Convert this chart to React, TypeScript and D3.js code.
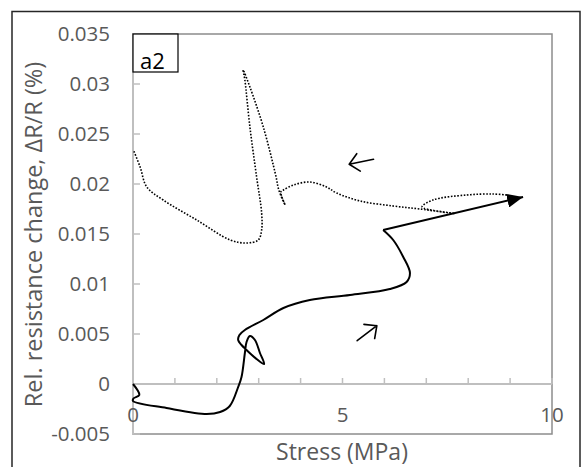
import React from "react";
import * as d3 from "d3";

// Loading curve (solid) — stress (MPa), ΔR/R (%)
const loadStress = [0, 0.15, 0.01, 0.0, 0.8, 1.76, 2.08, 2.31, 2.51, 2.59, 2.67, 2.71, 2.79, 2.91, 3.03, 3.13, 2.95, 2.71, 2.59, 2.51, 2.54, 2.67, 3.11, 3.59, 4.22, 5.18, 6.13, 6.53, 6.61, 6.45, 6.21, 5.97];
const loadRes = [0, -0.0011, -0.00145, -0.0017, -0.0024, -0.003, -0.0028, -0.0022, -0.0003, 0.0007, 0.0031, 0.0042, 0.0048, 0.0044, 0.0031, 0.002, 0.0025, 0.0034, 0.0039, 0.0044, 0.0049, 0.0054, 0.0064, 0.0076, 0.0084, 0.0089, 0.0095, 0.0102, 0.0111, 0.0127, 0.0144, 0.0154];
// final straight segment with arrow head
const loadEndStress = [5.97, 9.31];
const loadEndRes = [0.0154, 0.0187];

// Unloading curve (dotted)
const unloadStress = [8.92, 8.59, 7.96, 7.16, 6.9, 7.68, 6.85, 6.21, 5.42, 4.86, 4.62, 4.22, 3.83, 3.59, 3.53, 3.63, 3.48, 3.41, 3.11, 2.79, 2.63, 2.67, 2.79, 2.95, 3.07, 3.07, 2.99, 2.71, 2.32, 1.52, 0.72, 0.33, 0.17, 0.01];
const unloadRes = [0.0189, 0.019, 0.0189, 0.0184, 0.0177, 0.01705, 0.0175, 0.0178, 0.0183, 0.0191, 0.0197, 0.0202, 0.0199, 0.0194, 0.0192, 0.0179, 0.0194, 0.0208, 0.0257, 0.0297, 0.0314, 0.0304, 0.0257, 0.0207, 0.0171, 0.0154, 0.0144, 0.0141, 0.0144, 0.0164, 0.0184, 0.0197, 0.0217, 0.0234];

// Direction annotation arrows [tailX, tailY, tipX, tipY]
const unloadArrow = [5.74, 0.02247, 5.16, 0.02197];
const loadArrow = [5.35, 0.00433, 5.82, 0.00583];

const yTicks = [-0.005, 0, 0.005, 0.01, 0.015, 0.02, 0.025, 0.03, 0.035];
const yTickLabels = ["-0.005", "0", "0.005", "0.01", "0.015", "0.02", "0.025", "0.03", "0.035"];
const xLabelTicks = [0, 5, 10];
const xMinorTicks = [1, 2, 3, 4, 5, 6, 7, 8, 9, 10];

const FONT = "'Open Sans', sans-serif";

export default function App() {
  const x = d3.scaleLinear().domain([0, 10]).range([133, 552]);
  const y = d3.scaleLinear().domain([-0.005, 0.035]).range([434, 34]);

  const lineGen = d3
    .line<number>()
    .x((i) => x(loadStress[i]))
    .y((i) => y(loadRes[i]))
    .curve(d3.curveCatmullRom.alpha(0.5));
  const loadPath = lineGen(loadStress.map((_, i) => i)) || "";

  const unloadGen = d3
    .line<number>()
    .x((i) => x(unloadStress[i]))
    .y((i) => y(unloadRes[i]))
    .curve(d3.curveCatmullRom.alpha(0.5));
  const unloadPath = unloadGen(unloadStress.map((_, i) => i)) || "";

  const openArrow = (a: number[]) => {
    const x1 = x(a[0]), y1 = y(a[1]), x2 = x(a[2]), y2 = y(a[3]);
    const ang = Math.atan2(y2 - y1, x2 - x1);
    const L = 13;
    const s = 0.75;
    const ax1 = x2 - L * Math.cos(ang - s), ay1 = y2 - L * Math.sin(ang - s);
    const ax2 = x2 - L * Math.cos(ang + s), ay2 = y2 - L * Math.sin(ang + s);
    return `M${x1},${y1}L${x2},${y2}M${ax1},${ay1}L${x2},${y2}L${ax2},${ay2}`;
  };

  const y0 = y(0);

  return (
    <svg
      width={582}
      height={467}
      style={{ position: "absolute", left: 0, top: 0, background: "#fff" }}
    >
      <defs>
        <marker
          id="tri"
          viewBox="0 0 16 14"
          refX={16}
          refY={7}
          markerWidth={16}
          markerHeight={14}
          markerUnits="userSpaceOnUse"
          orient="auto"
        >
          <path d="M0,0L16,7L0,14Z" fill="#000" />
        </marker>
      </defs>
      <rect x={0} y={0} width={582} height={467} fill="#fff" />
      {/* outer frame */}
      <rect x={12} y={11.5} width={568} height={470} fill="none" stroke="#262626" strokeWidth={1.5} />

      {/* plot area border */}
      <rect x={133} y={34} width={419} height={400} fill="none" stroke="#8c8c8c" strokeWidth={1.5} />

      {/* y axis line */}
      <line x1={133} x2={133} y1={34} y2={434} stroke="#bfbfbf" strokeWidth={2} />
      {/* x axis line at y=0 */}
      <line x1={133} x2={552} y1={y0} y2={y0} stroke="#bfbfbf" strokeWidth={2} />

      {/* y ticks */}
      {yTicks.map((t, i) => (
        <g key={"yt" + i}>
          <line x1={133} x2={140} y1={y(t)} y2={y(t)} stroke="#bfbfbf" strokeWidth={1.5} />
          <text
            x={110}
            y={y(t)}
            dy="0.36em"
            textAnchor="end"
            fontFamily={FONT}
            fontSize={20.5}
            fill="#595959"
          >
            {yTickLabels[i]}
          </text>
        </g>
      ))}

      {/* x ticks */}
      {xMinorTicks.map((t) => (
        <line key={"xt" + t} x1={x(t)} x2={x(t)} y1={y0} y2={y0 - 6} stroke="#bfbfbf" strokeWidth={1.5} />
      ))}
      {xLabelTicks.map((t) => (
        <text
          key={"xl" + t}
          x={x(t)}
          y={422}
          textAnchor="middle"
          fontFamily={FONT}
          fontSize={20.5}
          fill="#595959"
        >
          {t}
        </text>
      ))}

      {/* axis titles */}
      <text
        x={342}
        y={460}
        textAnchor="middle"
        fontFamily={FONT}
        fontSize={23}
        fill="#595959"
      >
        Stress (MPa)
      </text>
      <text
        transform={`translate(42,234.5) rotate(-90)`}
        textAnchor="middle"
        fontFamily={FONT}
        fontSize={23.5}
        fill="#595959"
      >
        Rel. resistance change, ΔR/R (%)
      </text>

      {/* unloading dotted */}
      <path d={unloadPath} fill="none" stroke="#000" strokeWidth={1.6} strokeDasharray="1.6 1.6" />

      {/* loading solid */}
      <path d={loadPath} fill="none" stroke="#000" strokeWidth={2} strokeLinejoin="round" />
      <line
        x1={x(loadEndStress[0])}
        y1={y(loadEndRes[0])}
        x2={x(loadEndStress[1])}
        y2={y(loadEndRes[1])}
        stroke="#000"
        strokeWidth={2}
        markerEnd="url(#tri)"
      />

      {/* direction arrows */}
      <path d={openArrow(unloadArrow)} fill="none" stroke="#000" strokeWidth={1.6} strokeLinecap="round" strokeLinejoin="round" />
      <path d={openArrow(loadArrow)} fill="none" stroke="#000" strokeWidth={1.6} strokeLinecap="round" strokeLinejoin="round" />

      {/* a2 label */}
      <rect x={133} y={34} width={45} height={38} fill="#fff" stroke="#000" strokeWidth={1.2} />
      <text x={140} y={69} fontFamily={FONT} fontSize={22} fill="#000">
        a2
      </text>
    </svg>
  );
}
